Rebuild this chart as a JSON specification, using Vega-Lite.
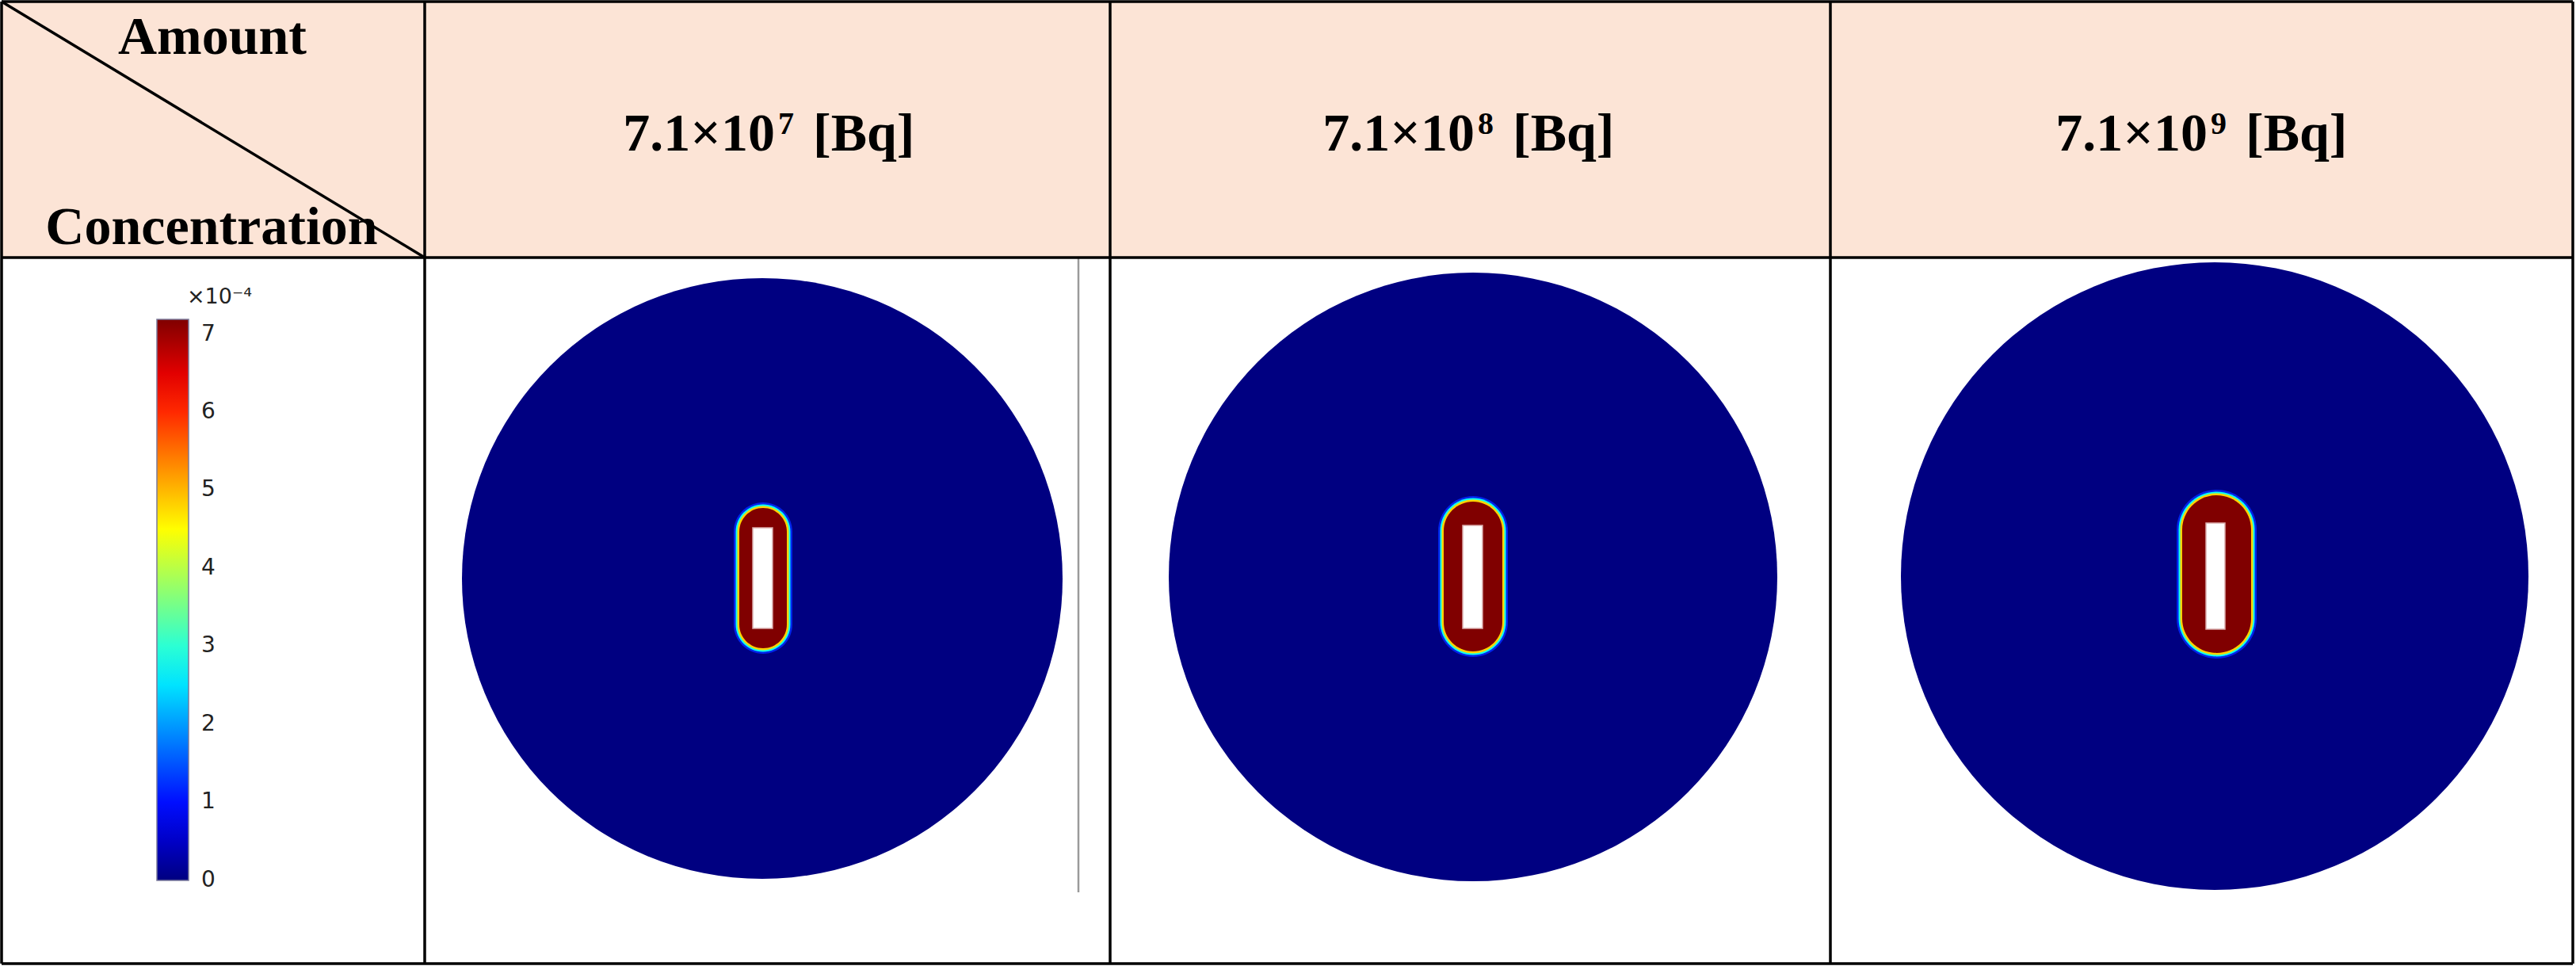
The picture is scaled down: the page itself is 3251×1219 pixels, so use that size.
{
  "$schema": "https://vega.github.io/schema/vega-lite/v6.json",
  "width": 3251,
  "height": 1219,
  "autosize": "none",
  "padding": 0,
  "background": "white",
  "config": {"view": {"stroke": null}, "legend": {"gradientVerticalMaxLength": 900}},
  "datasets": {
    "header": [{"x": 2, "x2": 3247, "y": 2, "y2": 325}],
    "domain": [
      {"panel": "7.1e7", "x": 962, "y": 730, "diameter": 758, "conc": 0},
      {"panel": "7.1e8", "x": 1859, "y": 728, "diameter": 768, "conc": 0},
      {"panel": "7.1e9", "x": 2795, "y": 727, "diameter": 792, "conc": 0}
    ],
    "plume": [
      {"panel": "7.1e7", "x": 933, "x2": 993, "y": 641, "y2": 818},
      {"panel": "7.1e8", "x": 1822, "x2": 1896, "y": 633, "y2": 822},
      {"panel": "7.1e9", "x": 2754, "x2": 2841, "y": 625, "y2": 824}
    ],
    "hole": [
      {"panel": "7.1e7", "x": 950, "x2": 975, "y": 666, "y2": 793},
      {"panel": "7.1e8", "x": 1846, "x2": 1871, "y": 663, "y2": 793},
      {"panel": "7.1e9", "x": 2784, "x2": 2808, "y": 660, "y2": 794}
    ],
    "frame": [{"x": 1361, "y": 325, "y2": 1126}],
    "lines": [
      {"x": 2, "y": 2, "x2": 3247, "y2": 2},
      {"x": 2, "y": 325, "x2": 3247, "y2": 325},
      {"x": 2, "y": 1216, "x2": 3247, "y2": 1216},
      {"x": 2, "y": 2, "x2": 2, "y2": 1216},
      {"x": 536, "y": 2, "x2": 536, "y2": 1216},
      {"x": 1401, "y": 2, "x2": 1401, "y2": 1216},
      {"x": 2310, "y": 2, "x2": 2310, "y2": 1216},
      {"x": 3247, "y": 2, "x2": 3247, "y2": 1216},
      {"x": 2, "y": 2, "x2": 536, "y2": 325}
    ],
    "corner": [
      {"label": "Amount", "x": 268, "y": 68},
      {"label": "Concentration", "x": 267, "y": 308}
    ],
    "amounts": [
      {"x": 972, "y": 190, "mantissa": "7.1×10", "exponent": "7", "unit": "[Bq]"},
      {"x": 1855, "y": 190, "mantissa": "7.1×10", "exponent": "8", "unit": "[Bq]"},
      {"x": 2780, "y": 190, "mantissa": "7.1×10", "exponent": "9", "unit": "[Bq]"}
    ],
    "cbtitle": [{"label": "×10⁻⁴", "x": 236, "y": 383}]
  },
  "layer": [
    {
      "data": {"name": "header"},
      "mark": {"type": "rect", "fill": "#FCE4D6", "strokeWidth": 0},
      "encoding": {
        "x": {"field": "x", "type": "quantitative", "scale": {"domain": [0, 3251], "nice": false, "zero": false}, "axis": null},
        "x2": {"field": "x2"},
        "y": {"field": "y", "type": "quantitative", "scale": {"domain": [0, 1219], "reverse": true, "nice": false, "zero": false}, "axis": null},
        "y2": {"field": "y2"}
      }
    },
    {
      "data": {"name": "domain"},
      "mark": {"type": "point", "shape": "circle", "filled": true, "opacity": 1, "strokeWidth": 0},
      "encoding": {
        "x": {"field": "x", "type": "quantitative", "axis": null},
        "y": {"field": "y", "type": "quantitative", "axis": null},
        "size": {"field": "diameter", "type": "quantitative", "scale": {"type": "pow", "exponent": 2, "domain": [0, 1000], "range": [0, 1000000]}, "legend": null},
        "color": {
          "field": "conc", "type": "quantitative",
          "scale": {"domain": [-0.005, 0.89875, 2.69625, 4.49375, 6.29125, 7.19], "range": ["#000080", "#0000FF", "#00FFFF", "#FFFF00", "#FF0000", "#800000"], "interpolate": "rgb"},
          "legend": {
            "orient": "none", "legendX": 198, "legendY": 403, "title": null, "direction": "vertical",
            "gradientLength": 708, "gradientThickness": 40, "values": [0, 1, 2, 3, 4, 5, 6, 7], "format": "d",
            "labelFont": "DejaVu Sans", "labelFontSize": 28, "labelColor": "#222222", "labelOffset": 16,
            "labelOverlap": false, "labelBaseline": "middle",
            "gradientStrokeColor": "#7a7a9a", "gradientStrokeWidth": 1.5, "padding": 0
          }
        }
      }
    },
    {
      "data": {"name": "plume"},
      "mark": {"type": "rect", "cornerRadius": 200, "xOffset": -7, "x2Offset": 7, "yOffset": -7, "y2Offset": 7, "opacity": 0.85},
      "encoding": {
        "x": {"field": "x", "type": "quantitative", "axis": null}, "x2": {"field": "x2"},
        "y": {"field": "y", "type": "quantitative", "axis": null}, "y2": {"field": "y2"},
        "color": {"datum": 1.2, "type": "quantitative"}
      }
    },
    {
      "data": {"name": "plume"},
      "mark": {"type": "rect", "cornerRadius": 200, "xOffset": -4.5, "x2Offset": 4.5, "yOffset": -4.5, "y2Offset": 4.5},
      "encoding": {
        "x": {"field": "x", "type": "quantitative", "axis": null}, "x2": {"field": "x2"},
        "y": {"field": "y", "type": "quantitative", "axis": null}, "y2": {"field": "y2"},
        "color": {"datum": 2.8, "type": "quantitative"}
      }
    },
    {
      "data": {"name": "plume"},
      "mark": {"type": "rect", "cornerRadius": 200, "xOffset": -2.5, "x2Offset": 2.5, "yOffset": -2.5, "y2Offset": 2.5},
      "encoding": {
        "x": {"field": "x", "type": "quantitative", "axis": null}, "x2": {"field": "x2"},
        "y": {"field": "y", "type": "quantitative", "axis": null}, "y2": {"field": "y2"},
        "color": {"datum": 4.8, "type": "quantitative"}
      }
    },
    {
      "data": {"name": "plume"},
      "mark": {"type": "rect", "cornerRadius": 200},
      "encoding": {
        "x": {"field": "x", "type": "quantitative", "axis": null}, "x2": {"field": "x2"},
        "y": {"field": "y", "type": "quantitative", "axis": null}, "y2": {"field": "y2"},
        "color": {"datum": 7.19, "type": "quantitative"}
      }
    },
    {
      "data": {"name": "hole"},
      "mark": {"type": "rect", "fill": "#FFFFFF", "stroke": "#d9aaaa", "strokeWidth": 1.5},
      "encoding": {
        "x": {"field": "x", "type": "quantitative", "axis": null}, "x2": {"field": "x2"},
        "y": {"field": "y", "type": "quantitative", "axis": null}, "y2": {"field": "y2"}
      }
    },
    {
      "data": {"name": "frame"},
      "mark": {"type": "rule", "stroke": "#9a9a9a", "strokeWidth": 2.5},
      "encoding": {
        "x": {"field": "x", "type": "quantitative", "axis": null},
        "y": {"field": "y", "type": "quantitative", "axis": null}, "y2": {"field": "y2"}
      }
    },
    {
      "data": {"name": "lines"},
      "mark": {"type": "rule", "stroke": "#000000", "strokeWidth": 3.5},
      "encoding": {
        "x": {"field": "x", "type": "quantitative", "axis": null}, "x2": {"field": "x2"},
        "y": {"field": "y", "type": "quantitative", "axis": null}, "y2": {"field": "y2"}
      }
    },
    {
      "data": {"name": "corner"},
      "mark": {"type": "text", "font": "Liberation Serif", "fontWeight": "bold", "fontSize": 68, "align": "center", "baseline": "alphabetic", "fill": "#000000"},
      "encoding": {
        "x": {"field": "x", "type": "quantitative", "axis": null},
        "y": {"field": "y", "type": "quantitative", "axis": null},
        "text": {"field": "label"}
      }
    },
    {
      "data": {"name": "amounts"},
      "mark": {"type": "text", "font": "Liberation Serif", "fontWeight": "bold", "fontSize": 68, "align": "right", "baseline": "alphabetic", "fill": "#000000", "dx": 6},
      "encoding": {
        "x": {"field": "x", "type": "quantitative", "axis": null},
        "y": {"field": "y", "type": "quantitative", "axis": null},
        "text": {"field": "mantissa"}
      }
    },
    {
      "data": {"name": "amounts"},
      "mark": {"type": "text", "font": "Liberation Serif", "fontWeight": "bold", "fontSize": 40, "align": "left", "baseline": "alphabetic", "fill": "#000000", "dx": 10, "dy": -21},
      "encoding": {
        "x": {"field": "x", "type": "quantitative", "axis": null},
        "y": {"field": "y", "type": "quantitative", "axis": null},
        "text": {"field": "exponent"}
      }
    },
    {
      "data": {"name": "amounts"},
      "mark": {"type": "text", "font": "Liberation Serif", "fontWeight": "bold", "fontSize": 68, "align": "left", "baseline": "alphabetic", "fill": "#000000", "dx": 54},
      "encoding": {
        "x": {"field": "x", "type": "quantitative", "axis": null},
        "y": {"field": "y", "type": "quantitative", "axis": null},
        "text": {"field": "unit"}
      }
    },
    {
      "data": {"name": "cbtitle"},
      "mark": {"type": "text", "font": "DejaVu Sans", "fontSize": 27, "align": "left", "baseline": "alphabetic", "fill": "#222222"},
      "encoding": {
        "x": {"field": "x", "type": "quantitative", "axis": null},
        "y": {"field": "y", "type": "quantitative", "axis": null},
        "text": {"field": "label"}
      }
    }
  ]
}
